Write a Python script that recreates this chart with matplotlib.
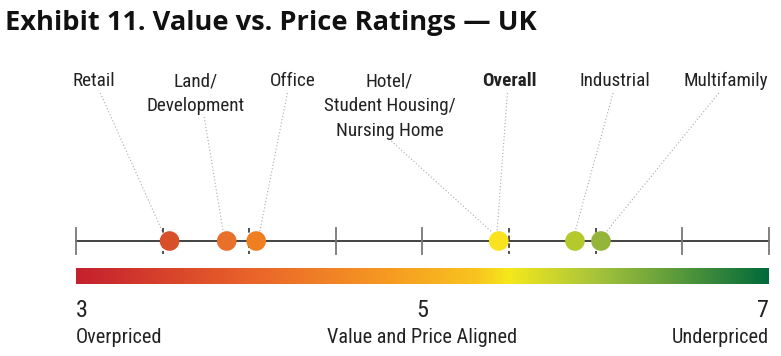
import numpy as np
import matplotlib
matplotlib.use("Agg")
import matplotlib.pyplot as plt
from matplotlib.colors import LinearSegmentedColormap
from matplotlib import font_manager as fm

# ---- data ----
categories = ["Retail", "Land/\nDevelopment", "Office", "Hotel/\nStudent Housing/\nNursing Home",
              "Overall", "Industrial", "Multifamily"]
ratings = [3.54, 3.87, 4.04, 5.44, 5.44, 5.88, 6.03]
dot_colors = ["#d8502a", "#e8702b", "#f07f22", None, "#f9e21e", "#b5c82c", "#94b43a"]
tick_values = [3, 5, 7]
tick_texts = ["Overpriced", "Value and Price Aligned", "Underpriced"]

# ---- font choice ----
names = {f.name for f in fm.fontManager.ttflist}
fam = "Roboto Condensed" if "Roboto Condensed" in names else "Roboto"
font = [fam, "DejaVu Sans"]
title_font = ["Open Sans", "DejaVu Sans"]

# ---- layout (pixel-based coordinate frame) ----
W, H = 781, 356
fig = plt.figure(figsize=(W / 100, H / 100), dpi=100)
ax = fig.add_axes([0, 0, 1, 1])
px_per_unit = 173.25
x0 = 3 - 76 / px_per_unit
x1 = 3 + (W - 76) / px_per_unit
ax.set_xlim(x0, x1)
ax.set_ylim(H, 0)
ax.axis("off")

# title
ax.text(3 - 71 / px_per_unit, 30, "Exhibit 11. Value vs. Price Ratings \u2014 UK",
        fontsize=19.6, fontweight="bold", family=title_font,
        va="baseline", ha="left", color="#111111")

# axis line & ticks
axis_y = 241
ax.plot([3, 7], [axis_y, axis_y], color="#222222", lw=1.2, zorder=1)
for v in np.arange(3, 7.01, 0.5):
    if v in (3.5, 4.0, 5.5, 6.0):
        ax.plot([v, v], [228, 254], color="#222222", lw=1.1, ls=(0, (3, 2)), zorder=1)
    else:
        ax.plot([v, v], [228, 254], color="#777777", lw=1.3, zorder=1)

# labels with leader lines
label_pos = [  # (x center, first baseline y, leader start x, leader start y, leader end x)
    (3.105, 86.5, 3.14, 93, 3.50),
    (3.69, 86.5, 3.74, 117, 3.85),
    (4.25, 86.5, 4.22, 93, 4.06),
    (4.81, 86.5, 4.82, 141, 5.40),
    (5.5, 86.5, 5.49, 93, 5.43),
    (6.11, 86.5, 6.1, 93, 5.88),
    (6.75, 86.5, 6.71, 93, 6.06),
]
line_pitch = 24.5
for cat, (lx, ly, sx, sy, ex) in zip(categories, label_pos):
    for k, line in enumerate(cat.split("\n")):
        ax.text(lx, ly + k * line_pitch, line, fontsize=13.8, family=font,
                ha="center", va="baseline", color="#222222",
                fontweight="bold" if cat == "Overall" else "normal")
    ax.plot([sx, ex], [sy, 232], color="#aaaaaa", lw=0.8, ls=(0, (1, 2)), zorder=0)

# dots
for r, c in zip(ratings, dot_colors):
    if c is None:
        continue
    ax.scatter([r], [axis_y], s=200, color=c, edgecolors="none", zorder=3)

# color bar
cmap = LinearSegmentedColormap.from_list("vp", [
    (0.0, "#c4202e"), (0.25, "#e9632a"), (0.45, "#f69a22"), (0.58, "#f8c51f"),
    (0.625, "#f5e81c"), (0.75, "#a8c43a"), (0.87, "#5a9a3c"), (1.0, "#026a3a")])
grad = np.linspace(0, 1, 512).reshape(1, -1)
ax.imshow(grad, cmap=cmap, aspect="auto", extent=[3, 7, 284, 268], zorder=1)

# bottom labels
has = ["left", "center", "right"]
for v, t, ha in zip(tick_values, tick_texts, has):
    ax.text(v, 317, str(v), fontsize=17.5, family=font,
            ha=ha, va="baseline", color="#222222")
    ax.text(v, 343, t, fontsize=14.6, family=font,
            ha=ha, va="baseline", color="#222222")

fig.savefig("out.png", dpi=100)
